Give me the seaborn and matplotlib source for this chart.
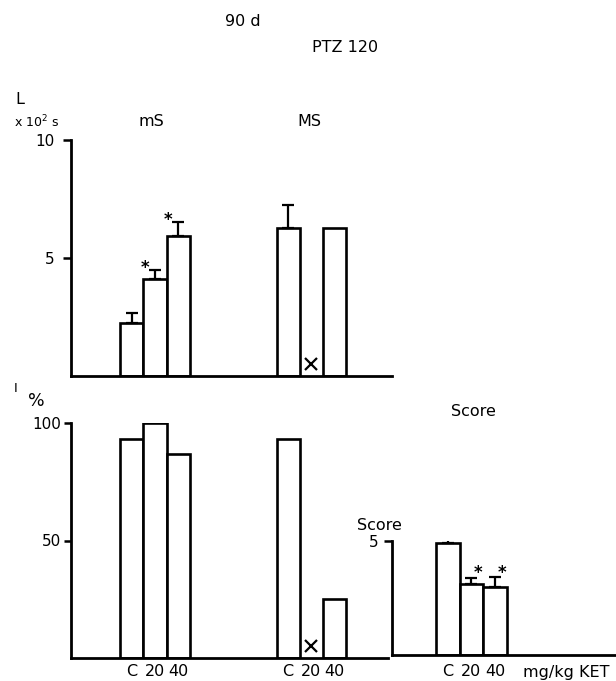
import numpy as np
import pandas as pd
import matplotlib
matplotlib.use("Agg")
import matplotlib.pyplot as plt
import matplotlib.transforms as mtransforms
import seaborn as sns

# ---------------- data ----------------
doses = ["C", "20", "40"]
groups = ["mS", "MS"]

# latency L (x 10^2 s)
latency_mS = [2.25, 4.1, 5.93]
latency_mS_err = [0.43, 0.4, 0.6]
latency_mS_sig = [False, True, True]
latency_MS = [6.27, np.nan, 6.27]          # 20 mg/kg: no seizures (x)
latency_MS_err = [0.98, 0.0, 0.0]
latency_MS_sig = [False, False, False]

# incidence I (%)
incidence_mS = [93, 100, 87]
incidence_MS = [93, np.nan, 25]

# seizure score
score = [4.9, 3.1, 3.0]
score_err = [0.2, 0.28, 0.4]
score_sig = [False, True, True]

# ---------------- style ----------------
sns.set_theme(style="white")
plt.rcParams["font.family"] = ["DejaVu Sans"]
plt.rcParams["axes.linewidth"] = 2.0
plt.rcParams["mathtext.fontset"] = "dejavusans"
plt.rcParams["text.color"] = "black"
plt.rcParams["axes.edgecolor"] = "black"
plt.rcParams["xtick.color"] = "black"
plt.rcParams["ytick.color"] = "black"
plt.rcParams["axes.labelcolor"] = "black"

W, H = 616, 681
fig = plt.figure(figsize=(W / 100, H / 100), dpi=100)


def px_axes(x0, y0, x1, y1):
    return fig.add_axes([x0 / W, 1 - y1 / H, (x1 - x0) / W, (y1 - y0) / H])


unit = 23.3  # pixels per bar
group_offset = {"mS": 0.0, "MS": 6.72}

ax_top = px_axes(71, 140, 392, 376)
ax_bot = px_axes(71, 423, 388, 658)
ax_sc = px_axes(392, 541, 616, 655)


def make_df(vals_by_group, errs_by_group=None, sig_by_group=None):
    rows = []
    for g, vals in vals_by_group.items():
        for i, d in enumerate(doses):
            rows.append({
                "group": g,
                "dose": d,
                "pos": group_offset[g] + i,
                "value": vals[i],
                "err": errs_by_group[g][i] if errs_by_group else 0.0,
                "sig": sig_by_group[g][i] if sig_by_group else False,
            })
    return pd.DataFrame(rows)


def draw_bars(ax, df):
    sns.barplot(data=df.dropna(subset=["value"]), x="pos", y="value",
                native_scale=True, width=1.0, color="white", saturation=1,
                edgecolor="black", linewidth=1.9, errorbar=None, ax=ax)
    e = df[(df["err"] > 0) & df["value"].notna()]
    if len(e):
        ax.errorbar(e["pos"], e["value"], yerr=[np.zeros(len(e)), e["err"]],
                    fmt="none", ecolor="black", elinewidth=1.6, capsize=4,
                    capthick=1.6, zorder=3)
    # missing bars: mark with a cross
    miss = df[df["value"].isna()]
    tr = mtransforms.blended_transform_factory(ax.transData, ax.transAxes)
    for p in miss["pos"]:
        ax.plot([p], [0.05], marker="x", color="black", markersize=9,
                mew=1.6, transform=tr, clip_on=False)
    ax.set_xlabel("")
    ax.set_ylabel("")


def style_axis(ax):
    sns.despine(ax=ax, top=True, right=True)
    ax.tick_params(axis="y", direction="out", length=6, width=1.8,
                   labelsize=11, left=True)
    ax.tick_params(axis="x", length=0, labelsize=11.5, pad=4)
    ax.set_facecolor("none")


# ---------- top: latency ----------
df_top = make_df({"mS": latency_mS, "MS": latency_MS},
                 {"mS": latency_mS_err, "MS": latency_MS_err},
                 {"mS": latency_mS_sig, "MS": latency_MS_sig})
draw_bars(ax_top, df_top)
ax_top.set_ylim(0, 10)
ax_top.set_xlim(-2.6, -2.6 + 321 / unit)
ax_top.set_yticks([5, 10])
ax_top.set_yticklabels(["5", "10"])
ax_top.set_xticks([])
style_axis(ax_top)
ax_top.tick_params(axis="y", pad=6)
for _, r in df_top[df_top["sig"]].iterrows():
    ax_top.text(r["pos"] - 0.42, r["value"] + r["err"] - 0.3, "*",
                ha="center", va="bottom", fontsize=12, fontweight="bold")

# ---------- bottom left: incidence ----------
df_bot = make_df({"mS": incidence_mS, "MS": incidence_MS})
draw_bars(ax_bot, df_bot)
ax_bot.set_ylim(0, 100)
ax_bot.set_xlim(-2.6, -2.6 + 317 / unit)
ax_bot.set_yticks([50, 100])
ax_bot.set_yticklabels(["50", "100"])
ax_bot.set_xticks(df_bot["pos"])
ax_bot.set_xticklabels(df_bot["dose"])
style_axis(ax_bot)
ax_bot.tick_params(axis="y", pad=2, length=5)

# ---------- bottom right: score ----------
df_sc = pd.DataFrame({"dose": doses, "pos": np.arange(len(doses), dtype=float),
                      "value": score, "err": score_err, "sig": score_sig})
draw_bars(ax_sc, df_sc)
ax_sc.set_ylim(0, 5)
ax_sc.set_xlim(-2.38, -2.38 + 224 / 23.5)
ax_sc.set_yticks([5])
ax_sc.set_yticklabels(["5"])
ax_sc.set_xticks(df_sc["pos"])
ax_sc.set_xticklabels(df_sc["dose"])
style_axis(ax_sc)
ax_sc.tick_params(axis="y", pad=4, length=6)
ax_sc.tick_params(axis="x", pad=6.5)
for _, r in df_sc[df_sc["sig"]].iterrows():
    ax_sc.text(r["pos"] + 0.3, r["value"] + r["err"] - 0.19, "*",
               ha="center", va="bottom", fontsize=12, fontweight="bold")


# ---------- texts ----------
def ftext(x, y, s, **kw):
    kw.setdefault("fontsize", 11.5)
    kw.setdefault("ha", "center")
    kw.setdefault("va", "center")
    fig.text(x / W, 1 - y / H, s, **kw)


ftext(243, 22, "90 d")
ftext(345, 48, "PTZ 120")
ftext(15, 100, "L", ha="left")
ftext(14, 122, r"x 10$^2$ s", ha="left", fontsize=9)
ftext(151, 122, "mS")
ftext(309, 122, "MS")
ftext(14, 388, "I", ha="left", fontsize=9.5)
ftext(36, 401, "%", fontsize=12.5)
ftext(473, 411, "Score")
ftext(379, 526, "Score")
ftext(566, 672, "mg/kg KET")

fig.savefig("out.png", dpi=100)
